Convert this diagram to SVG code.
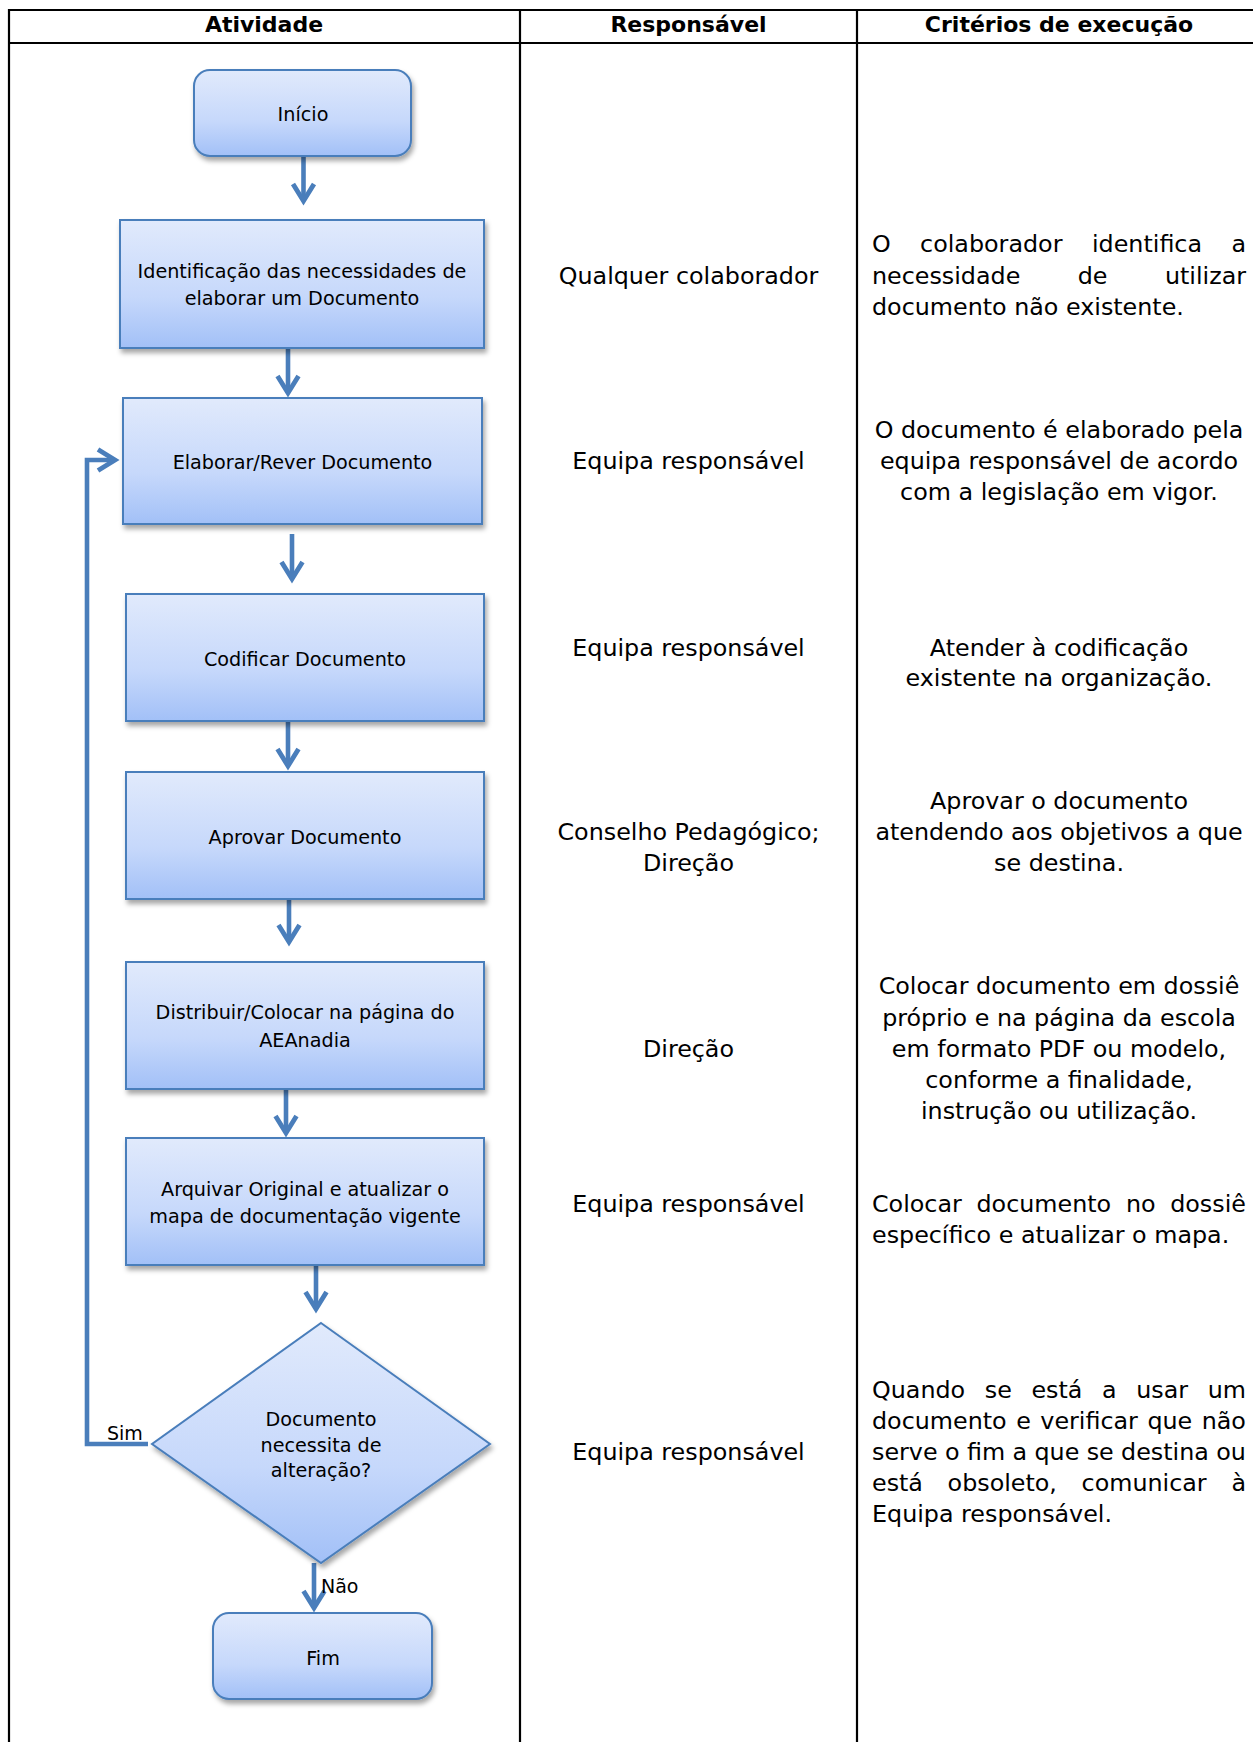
<svg xmlns="http://www.w3.org/2000/svg" width="1253" height="1742" viewBox="0 0 1253 1742">
<style>
text{font-family:"DejaVu Sans",Verdana,sans-serif;fill:#000}
.tbl{stroke:#000;stroke-width:2.2;fill:none}
.hdr{font-size:22px;font-weight:bold;text-anchor:middle}
.bt{font-size:23.8px}
.c{text-anchor:middle}
.node{fill:url(#g);stroke:#4a7ebb;stroke-width:2;filter:url(#sh)}
.nt{font-size:19.2px;text-anchor:middle}
.lbl{font-size:19px}
.conn{stroke:#4a7ebb;stroke-width:4.6;fill:none;marker-end:url(#arr)}
</style>
<defs>
<linearGradient id="g" x1="0" y1="0" x2="0" y2="1">
<stop offset="0" stop-color="#e1eafc"/>
<stop offset="0.6" stop-color="#c6d8fb"/>
<stop offset="1" stop-color="#a2c0f7"/>
</linearGradient>
<filter id="sh" x="-10%" y="-10%" width="130%" height="130%">
<feDropShadow dx="2" dy="4" stdDeviation="2.5" flood-color="#000" flood-opacity="0.35"/>
</filter>
<marker id="arr" markerUnits="userSpaceOnUse" viewBox="-22 -14 28 28" refX="0" refY="0" markerWidth="28" markerHeight="28" orient="auto" overflow="visible">
<path d="M-17,-10.5 L0,0 L-17,10.5" fill="none" stroke="#4a7ebb" stroke-width="4.8" stroke-linejoin="miter" stroke-miterlimit="10"/>
</marker>
</defs>

<g id="table">
<line class="tbl" x1="8" y1="10" x2="1253" y2="10"/>
<line class="tbl" x1="8" y1="43" x2="1253" y2="43"/>
<line class="tbl" x1="9" y1="9" x2="9" y2="1742"/>
<line class="tbl" x1="520" y1="9" x2="520" y2="1742"/>
<line class="tbl" x1="857" y1="9" x2="857" y2="1742"/>
<text class="hdr" x="264" y="32">Atividade</text>
<text class="hdr" x="688.5" y="32">Responsável</text>
<text class="hdr" x="1059" y="32">Critérios de execução</text>
</g>

<g id="connectors">
<line class="conn" x1="303.5" y1="156" x2="303.5" y2="201"/>
<line class="conn" x1="288" y1="348" x2="288" y2="393"/>
<line class="conn" x1="292" y1="534" x2="292" y2="579"/>
<line class="conn" x1="288" y1="721" x2="288" y2="766"/>
<line class="conn" x1="289" y1="899" x2="289" y2="942"/>
<line class="conn" x1="286" y1="1088" x2="286" y2="1133"/>
<line class="conn" x1="316" y1="1265" x2="316" y2="1309"/>
<line class="conn" x1="314" y1="1563" x2="314" y2="1608"/>
<polyline class="conn" points="148,1444 87,1444 87,460 115,460"/>
<text class="lbl" x="107" y="1440">Sim</text>
<text class="lbl" x="321" y="1593">Não</text>
</g>

<g id="inicio">
<rect class="node" x="194" y="70" width="217" height="86" rx="16"/>
<text class="nt" x="303" y="121">Início</text>
</g>
<g id="identificacao">
<rect class="node" x="120" y="220" width="364" height="128"/>
<text class="nt" x="302" y="278">Identificação das necessidades de</text>
<text class="nt" x="302" y="305">elaborar um Documento</text>
</g>
<g id="elaborar">
<rect class="node" x="123" y="398" width="359" height="126"/>
<text class="nt" x="302.5" y="469">Elaborar/Rever Documento</text>
</g>
<g id="codificar">
<rect class="node" x="126" y="594" width="358" height="127"/>
<text class="nt" x="305" y="666">Codificar Documento</text>
</g>
<g id="aprovar">
<rect class="node" x="126" y="772" width="358" height="127"/>
<text class="nt" x="305" y="844">Aprovar Documento</text>
</g>
<g id="distribuir">
<rect class="node" x="126" y="962" width="358" height="127"/>
<text class="nt" x="305" y="1019">Distribuir/Colocar na página do</text>
<text class="nt" x="305" y="1047">AEAnadia</text>
</g>
<g id="arquivar">
<rect class="node" x="126" y="1138" width="358" height="127"/>
<text class="nt" x="305" y="1196">Arquivar Original e atualizar o</text>
<text class="nt" x="305" y="1223">mapa de documentação vigente</text>
</g>
<g id="decisao">
<polygon class="node" points="321,1323 490,1444 321,1563 152,1444"/>
<text class="nt" x="321" y="1426">Documento</text>
<text class="nt" x="321" y="1452">necessita de</text>
<text class="nt" x="321" y="1477">alteração?</text>
</g>
<g id="fim">
<rect class="node" x="213" y="1613" width="219" height="86" rx="16"/>
<text class="nt" x="323" y="1665">Fim</text>
</g>

<g id="responsavel">
<text class="bt c" x="688.5" y="283.5">Qualquer colaborador</text>
<text class="bt c" x="688.5" y="469">Equipa responsável</text>
<text class="bt c" x="688.5" y="656">Equipa responsável</text>
<text class="bt c" x="688.5" y="840">Conselho Pedagógico;</text>
<text class="bt c" x="688.5" y="871">Direção</text>
<text class="bt c" x="688.5" y="1056.6">Direção</text>
<text class="bt c" x="688.5" y="1212">Equipa responsável</text>
<text class="bt c" x="688.5" y="1460">Equipa responsável</text>
</g>

<g id="criterios">
<text class="bt" y="252"><tspan x="872">O</tspan><tspan x="920.1">colaborador</tspan><tspan x="1092">identifica</tspan><tspan x="1231.4">a</tspan></text>
<text class="bt" y="283.5"><tspan x="872">necessidade</tspan><tspan x="1077.7">de</tspan><tspan x="1164.9">utilizar</tspan></text>
<text class="bt" x="872" y="314.6">documento não existente.</text>

<text class="bt c" x="1059" y="438">O documento é elaborado pela</text>
<text class="bt c" x="1059" y="469">equipa responsável de acordo</text>
<text class="bt c" x="1059" y="500">com a legislação em vigor.</text>

<text class="bt c" x="1059" y="656">Atender à codificação</text>
<text class="bt c" x="1059" y="686">existente na organização.</text>

<text class="bt c" x="1059" y="809">Aprovar o documento</text>
<text class="bt c" x="1059" y="840">atendendo aos objetivos a que</text>
<text class="bt c" x="1059" y="871">se destina.</text>

<text class="bt c" x="1059" y="994.4">Colocar documento em dossiê</text>
<text class="bt c" x="1059" y="1025.5">próprio e na página da escola</text>
<text class="bt c" x="1059" y="1056.6">em formato PDF ou modelo,</text>
<text class="bt c" x="1059" y="1087.7">conforme a finalidade,</text>
<text class="bt c" x="1059" y="1118.8">instrução ou utilização.</text>

<text class="bt" y="1212"><tspan x="872">Colocar</tspan><tspan x="976.5">documento</tspan><tspan x="1125.9">no</tspan><tspan x="1170.2">dossiê</tspan></text>
<text class="bt" x="872" y="1243">específico e atualizar o mapa.</text>

<text class="bt" y="1397.6"><tspan x="872">Quando</tspan><tspan x="984.8">se</tspan><tspan x="1031.4">está</tspan><tspan x="1102">a</tspan><tspan x="1136.2">usar</tspan><tspan x="1207.7">um</tspan></text>
<text class="bt" y="1428.7"><tspan x="872">documento</tspan><tspan x="1016.2">e</tspan><tspan x="1040.3">verificar</tspan><tspan x="1147.4">que</tspan><tspan x="1201.7">não</tspan></text>
<text class="bt" y="1459.8"><tspan x="872">serve</tspan><tspan x="944.9">o</tspan><tspan x="966.9">fim</tspan><tspan x="1012.5">a</tspan><tspan x="1034.5">que</tspan><tspan x="1086.7">se</tspan><tspan x="1121.1">destina</tspan><tspan x="1216.3">ou</tspan></text>
<text class="bt" y="1490.9"><tspan x="872">está</tspan><tspan x="947.6">obsoleto,</tspan><tspan x="1081.6">comunicar</tspan><tspan x="1231.4">à</tspan></text>
<text class="bt" x="872" y="1522">Equipa responsável.</text>
</g>
</svg>
